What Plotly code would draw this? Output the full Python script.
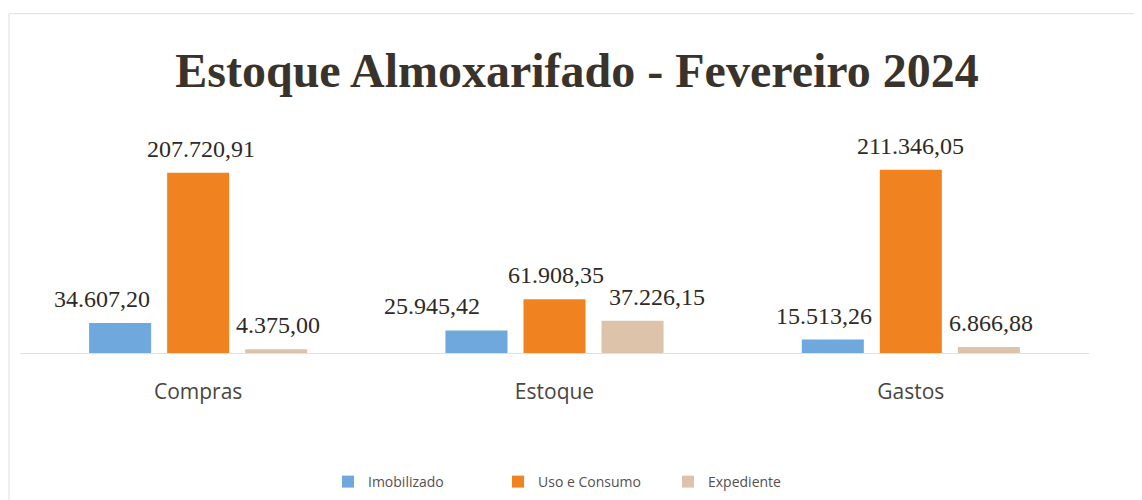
import plotly.graph_objects as go

categories = ["Compras", "Estoque", "Gastos"]
series_names = ["Imobilizado", "Uso e Consumo", "Expediente"]
imobilizado = [34607.20, 25945.42, 15513.26]
uso_consumo = [207720.91, 61908.35, 211346.05]
expediente = [4375.00, 37226.15, 6866.88]
values = [imobilizado, uso_consumo, expediente]

colors = ["#6ea8dc", "#f0831f", "#dcc3aa"]
# horizontal label offsets (px) per series / category, as laid out in the reference
label_xshift = [[-18, -45, -9], [3, 1, 0], [2, 24, 2]]

# the page body adds an 8px offset; compensate in margins
OFF = 8
L, T = 20 - OFF, 150 - OFF
PW, PH = 1069, 204


def fmt_br(v):
    s = f"{v:,.2f}"
    return s.replace(",", "X").replace(".", ",").replace("X", ".")


fig = go.Figure()
for name, vals, col in zip(series_names, values, colors):
    fig.add_trace(go.Bar(name=name, x=categories, y=vals, marker_color=col,
                         marker_line_width=0))

annotations = []
for si, vals in enumerate(values):
    for ci, (cat, v) in enumerate(zip(categories, vals)):
        offset = (si - 1) * 78
        annotations.append(dict(
            x=cat, y=v, xref="x", yref="y", text=fmt_br(v), showarrow=False,
            xshift=offset + label_xshift[si][ci], yshift=9, yanchor="bottom",
            font=dict(family="Liberation Serif", size=24, color="#2e2a26"),
        ))


def px_x(x):
    return (x - OFF - L) / PW


def px_y(y):
    return (T + PH - (y - OFF)) / PH


fig.update_layout(
    width=1142, height=500,
    paper_bgcolor="white", plot_bgcolor="white",
    margin=dict(l=L, r=1142 - L - PW, t=T, b=500 - T - PH),
    barmode="group", bargap=0.343, bargroupgap=0.205,
    title=dict(text="<b>Estoque Almoxarifado - Fevereiro 2024</b>",
               x=(577 - OFF) / 1142, xanchor="center",
               y=1 - (70 - OFF) / 500, yanchor="middle",
               font=dict(family="Liberation Serif", size=48, color="#3a332b")),
    xaxis=dict(showline=True, linecolor="#e8dede", linewidth=1,
               ticks="outside", ticklen=20, tickcolor="rgba(0,0,0,0)",
               tickfont=dict(family="Open Sans", size=21, color="#4a4540"),
               showgrid=False),
    yaxis=dict(range=[0, 234000], visible=False, showgrid=False),
    legend=dict(orientation="h", x=px_x(583), xanchor="center",
                y=px_y(482), yanchor="middle",
                font=dict(family="Open Sans", size=14, color="#555050"),
                itemwidth=30, entrywidth=125, traceorder="normal"),
    annotations=annotations,
    shapes=[
        dict(type="line", xref="paper", yref="paper",
             x0=px_x(9), x1=px_x(1160), y0=px_y(13), y1=px_y(13),
             line=dict(color="#e2dede", width=1), layer="below"),
        dict(type="line", xref="paper", yref="paper",
             x0=px_x(9), x1=px_x(9), y0=px_y(13), y1=px_y(520),
             line=dict(color="#e2dede", width=1), layer="below"),
    ],
)

fig.write_html("out.html")
